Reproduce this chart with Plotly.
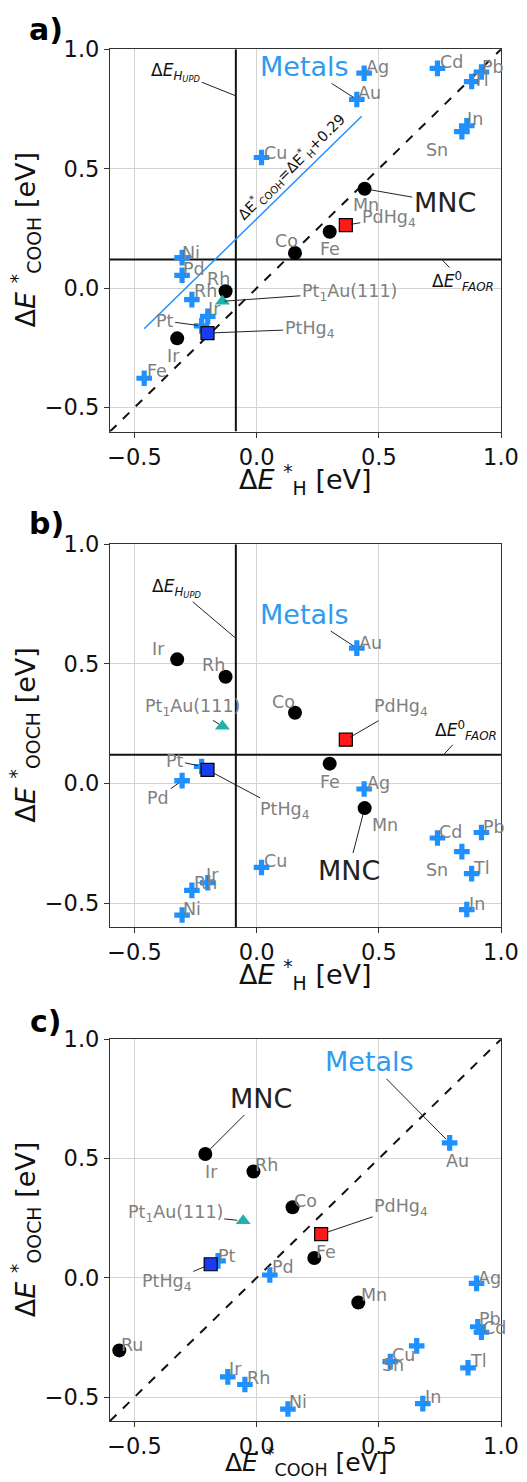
import numpy as np
import plotly.graph_objects as go

# ---------------- data ----------------
metal_names = ["Ag", "Au", "Cd", "Cu", "Fe", "In", "Ir", "Ni", "Pb", "Pd", "Pt", "Rh", "Sn", "Tl"]
metal_dEH = [0.44, 0.41, 0.74, 0.02, -0.46, 0.86, -0.20, -0.305, 0.92, -0.305, -0.225, -0.265, 0.84, 0.88]
metal_dECOOH = [0.90, 0.79, 0.92, 0.547, -0.377, 0.68, -0.118, 0.128, 0.905, 0.054, -0.158, -0.048, 0.655, 0.865]
metal_dEOOCH = [-0.023, 0.566, -0.228, -0.351, None, -0.527, -0.415, -0.55, -0.205, 0.012, 0.071, -0.447, -0.285, -0.377]

mnc_names = ["Co", "Fe", "Ir", "Mn", "Rh", "Ru"]
mnc_dEH = [0.157, 0.299, -0.325, 0.442, -0.127, None]
mnc_dECOOH = [0.147, 0.236, -0.21, 0.416, -0.013, -0.562]
mnc_dEOOCH = [0.296, 0.083, 0.519, -0.103, 0.446, -0.304]

pdhg4 = {"H": 0.365, "COOH": 0.264, "OOCH": 0.183}
pthg4 = {"H": -0.201, "COOH": -0.188, "OOCH": 0.057}
pt1au = {"H": -0.14, "COOH": -0.055, "OOCH": 0.239}

dE_HUPD = -0.085
dE_FAOR = 0.12
fit_offset = 0.29
fit_x_range = [-0.46, 0.43]
axis_range = [-0.6, 1.0]
tick_vals = [-0.5, 0.0, 0.5, 1.0]
tick_text = ["\u22120.5", "0.0", "0.5", "1.0"]

# ---------------- style ----------------
FONT = "DejaVu Sans"
BLUE = "#1E90FF"
GRAY = "#808080"
W, H = 527, 1482
XDOM = [110 / W, 501 / W]
YDOMS = [[1 - 431.5 / H, 1 - 49.3 / H], [1 - 927 / H, 1 - 544.3 / H], [1 - 1421 / H, 1 - 1039.3 / H]]

fig = go.Figure()
annotations = []


def nn(v):
    return np.nan if v is None else v


axes_refs = [("x", "y"), ("x2", "y2"), ("x3", "y3")]

panel_data = [
    ("H", "COOH", metal_dEH, metal_dECOOH, mnc_dEH, mnc_dECOOH),
    ("H", "OOCH", metal_dEH, metal_dEOOCH, mnc_dEH, mnc_dEOOCH),
    ("COOH", "OOCH", metal_dECOOH, metal_dEOOCH, mnc_dECOOH, mnc_dEOOCH),
]

for i, (kx, ky, mx, my, cx, cy) in enumerate(panel_data):
    xr, yr = axes_refs[i]
    if i < 2:
        fig.add_trace(go.Scatter(x=[dE_HUPD, dE_HUPD], y=axis_range, mode="lines",
                                 line=dict(color="#111111", width=2), xaxis=xr, yaxis=yr, showlegend=False, hoverinfo="skip"))
        fig.add_trace(go.Scatter(x=axis_range, y=[dE_FAOR, dE_FAOR], mode="lines",
                                 line=dict(color="#111111", width=2), xaxis=xr, yaxis=yr, showlegend=False, hoverinfo="skip"))
    if i != 1:
        fig.add_trace(go.Scatter(x=axis_range, y=axis_range, mode="lines",
                                 line=dict(color="#111111", width=2, dash="dash"), xaxis=xr, yaxis=yr, showlegend=False, hoverinfo="skip"))
    if i == 0:
        fx = np.array(fit_x_range)
        fig.add_trace(go.Scatter(x=fx, y=fx + fit_offset, mode="lines",
                                 line=dict(color=BLUE, width=1.5), xaxis=xr, yaxis=yr, showlegend=False, hoverinfo="skip"))
    fig.add_trace(go.Scatter(x=[nn(v) for v in mx], y=[nn(v) for v in my], mode="markers",
                             marker=dict(symbol="cross", size=13, color=BLUE, line=dict(width=0)),
                             xaxis=xr, yaxis=yr, showlegend=False, cliponaxis=False))
    fig.add_trace(go.Scatter(x=[nn(v) for v in cx], y=[nn(v) for v in cy], mode="markers",
                             marker=dict(symbol="circle", size=14, color="black"),
                             xaxis=xr, yaxis=yr, showlegend=False))
    fig.add_trace(go.Scatter(x=[pt1au[kx]], y=[pt1au[ky]], mode="markers",
                             marker=dict(symbol="triangle-up", size=13, color="#20B2AA"),
                             xaxis=xr, yaxis=yr, showlegend=False))
    fig.add_trace(go.Scatter(x=[pdhg4[kx]], y=[pdhg4[ky]], mode="markers",
                             marker=dict(symbol="square", size=13, color="#FF1A1A", line=dict(color="black", width=1.2)),
                             xaxis=xr, yaxis=yr, showlegend=False))
    fig.add_trace(go.Scatter(x=[pthg4[kx]], y=[pthg4[ky]], mode="markers",
                             marker=dict(symbol="square", size=13, color="#1A3CF0", line=dict(color="black", width=1.2)),
                             xaxis=xr, yaxis=yr, showlegend=False))

# ---------------- point labels (pixel offsets of the label centre: dx right, dy down) ----------------
metal_off = [
    {"Ag": (13, -6), "Au": (13, -6), "Cd": (14, -6), "Cu": (14, -5), "Fe": (13, -7), "In": (8, -7), "Ir": (7, -7),
     "Ni": (9, -5), "Pb": (12, -5), "Pd": (12, -6), "Pt": None, "Rh": (14, -9), "Sn": (-25, 18), "Tl": (9, -2)},
    {"Ag": (14, -6), "Au": (14, -5), "Cd": (13, -6), "Cu": (14, -6), "In": (10, -6), "Ir": (5, -8), "Ni": (10, -6),
     "Pb": (13, -6), "Pd": None, "Pt": None, "Rh": (14, -7), "Sn": (-25, 18), "Tl": (10, -6)},
    {"Ag": (13, -5), "Au": (8, 18), "Cd": (13, -4), "Cu": (13, -7), "In": (10, -7), "Ir": (8, -8), "Ni": (10, -7),
     "Pb": (12, -8), "Pd": (13, -8), "Pt": (9, -5), "Rh": (14, -7), "Sn": (-24, 19), "Tl": (10, -7)},
]
mnc_off = [
    {"Co": (-8, -12), "Fe": (0, 17), "Ir": (-4, 18), "Mn": (1, 16), "Rh": (-7, -12)},
    {"Co": (-11, -11), "Fe": (0, 18), "Ir": (-19, -10), "Mn": (20, 17), "Rh": (-12, -12)},
    {"Co": (13, -6), "Fe": (12, -6), "Ir": (6, 18), "Mn": (16, -7), "Rh": (13, -6), "Ru": (13, -5)},
]
leader_labels = [
    [("Pt", metal_dEH, metal_dECOOH, -37, -5)],
    [("Pt", metal_dEH, metal_dEOOCH, -27, -6), ("Pd", metal_dEH, metal_dEOOCH, -24, 17)],
    [],
]

lab_font = dict(family=FONT, size=17.5, color=GRAY)

for i, (kx, ky, mx, my, cx, cy) in enumerate(panel_data):
    xr, yr = axes_refs[i]
    for names, xs, ys, offs in ((metal_names, mx, my, metal_off[i]), (mnc_names, cx, cy, mnc_off[i])):
        for n, xv, yv in zip(names, xs, ys):
            if xv is None or yv is None or n not in offs or offs[n] is None:
                continue
            dx, dy = offs[n]
            annotations.append(dict(x=xv, y=yv, xref=xr, yref=yr, text=n, showarrow=False,
                                    xanchor="center", yanchor="middle",
                                    xshift=dx, yshift=-dy, font=lab_font))
    for n, xs, ys, dx, dy in leader_labels[i]:
        k = metal_names.index(n)
        annotations.append(dict(x=xs[k], y=ys[k], xref=xr, yref=yr, text=n, showarrow=True, arrowhead=0,
                                arrowwidth=1, arrowcolor="#222", ax=dx, ay=dy, font=lab_font, standoff=4))


def callout(xr, yr, x, y, text, ax, ay, font, standoff=0):
    annotations.append(dict(x=x, y=y, xref=xr, yref=yr, text=text, showarrow=True, arrowhead=0,
                            arrowwidth=1, arrowcolor="#222", ax=ax, ay=ay, font=font, standoff=standoff))


big_blue = dict(family=FONT, size=27, color="#2E9BF2")
big_black = dict(family=FONT, size=27, color="#222222")
small_black = dict(family=FONT, size=17, color="#111111")
hupd_txt = "\u0394<i>E</i><sub><i>H</i><sub><i>UPD</i></sub></sub>"
faor_txt = "\u0394<i>E</i><sup>0</sup><sub><i>FAOR</i></sub>"

au = metal_names.index("Au")
mn = mnc_names.index("Mn")
ir = mnc_names.index("Ir")

# panel a
callout("x", "y", dE_HUPD, 0.805, hupd_txt, -60, -24, small_black)
callout("x", "y", 0.758, dE_FAOR, faor_txt, 21, 22, small_black)
callout("x", "y", metal_dEH[au], metal_dECOOH[au], "Metals", -52, -33, big_blue, 4)
callout("x", "y", mnc_dEH[mn], mnc_dECOOH[mn], "MNC", 80, 14, big_black, 6)
callout("x", "y", pdhg4["H"], pdhg4["COOH"], "PdHg<sub>4</sub>", 43, -7, lab_font, 5)
callout("x", "y", pt1au["H"], pt1au["COOH"], "Pt<sub>1</sub>Au(111)", 127, -9, lab_font, 2)
callout("x", "y", pthg4["H"], pthg4["COOH"], "PtHg<sub>4</sub>", 102, -4, lab_font, 6)
annotations.append(dict(x=0.142, y=0.142 + fit_offset + 0.075, xref="x", yref="y",
                        xanchor="center", yanchor="middle",
                        text="\u0394E<sup>*</sup><sub>COOH</sub>=\u0394E<sup>*</sup><sub>H</sub>+0.29",
                        showarrow=False, textangle=-44.5, font=dict(family=FONT, size=14.5, color="#111111")))

# panel b
callout("x2", "y2", dE_HUPD, 0.607, hupd_txt, -59, -50, small_black)
callout("x2", "y2", 0.765, dE_FAOR, faor_txt, 22, -24, small_black)
callout("x2", "y2", metal_dEH[au], metal_dEOOCH[au], "Metals", -52, -34, big_blue, 4)
callout("x2", "y2", mnc_dEH[mn], mnc_dEOOCH[mn], "MNC", -16, 62, big_black, 6)
callout("x2", "y2", pdhg4["H"], pdhg4["OOCH"], "PdHg<sub>4</sub>", 55, -32, lab_font, 5)
callout("x2", "y2", pt1au["H"], pt1au["OOCH"], "Pt<sub>1</sub>Au(111)", -30, -19, lab_font, 4)
callout("x2", "y2", pthg4["H"], pthg4["OOCH"], "PtHg<sub>4</sub>", 77, 41, lab_font, 6)

# panel c
callout("x3", "y3", mnc_dECOOH[ir], mnc_dEOOCH[ir], "MNC", 56, -56, big_black, 6)
callout("x3", "y3", metal_dECOOH[au], metal_dEOOCH[au], "Metals", -80, -81, big_blue, 5)
callout("x3", "y3", pt1au["COOH"], pt1au["OOCH"], "Pt<sub>1</sub>Au(111)", -68, -7, lab_font, 6)
callout("x3", "y3", pdhg4["COOH"], pdhg4["OOCH"], "PdHg<sub>4</sub>", 80, -27, lab_font, 6)
callout("x3", "y3", pthg4["COOH"], pthg4["OOCH"], "PtHg<sub>4</sub>", -44, 18, lab_font, 7)

# ---------------- panel letters & axis titles ----------------
letters = ["a)", "b)", "c)"]
letter_y = [30, 523, 1022]
for t, py in zip(letters, letter_y):
    annotations.append(dict(x=46 / W, y=1 - py / H, xref="paper", yref="paper", text=f"<b>{t}</b>",
                            xanchor="center", yanchor="middle",
                            showarrow=False, font=dict(family=FONT, size=30, color="black")))

xtitles = ["\u0394<i>E</i> <sup>*</sup><sub>H</sub> [eV]", "\u0394<i>E</i> <sup>*</sup><sub>H</sub> [eV]",
           "\u0394<i>E</i> <sup>*</sup><sub>COOH</sub> [eV]"]
ytitles = ["\u0394<i>E</i> <sup>*</sup><sub>COOH</sub> [eV]", "\u0394<i>E</i> <sup>*</sup><sub>OOCH</sub> [eV]",
           "\u0394<i>E</i> <sup>*</sup><sub>OOCH</sub> [eV]"]
xtitle_y = [479, 974, 1462]
xtitle_size = [27, 27, 25]
for i in range(3):
    y0, y1 = YDOMS[i]
    annotations.append(dict(x=(XDOM[0] + XDOM[1]) / 2, y=1 - xtitle_y[i] / H, xref="paper", yref="paper",
                            xanchor="center", yanchor="middle",
                            text=xtitles[i], showarrow=False,
                            font=dict(family=FONT, size=xtitle_size[i], color="#111111")))
    annotations.append(dict(x=25 / W, y=(y0 + y1) / 2, xref="paper", yref="paper", textangle=-90,
                            xanchor="center", yanchor="middle",
                            text=ytitles[i], showarrow=False, font=dict(family=FONT, size=27, color="#111111")))

axis_common = dict(range=axis_range, tickvals=tick_vals, ticktext=tick_text, showgrid=True,
                   gridcolor="#d3d3d3", gridwidth=1, zeroline=False, showline=True, linecolor="#333333",
                   linewidth=1.2, mirror=True, ticks="outside", ticklen=5, tickcolor="#333333",
                   automargin=False, tickfont=dict(family=FONT, size=22.5, color="#111111"))

layout = dict(width=W, height=H, autosize=False,
              margin=dict(l=0, r=0, t=0, b=0, pad=0, autoexpand=False), plot_bgcolor="white",
              paper_bgcolor="white", annotations=annotations, showlegend=False)
for i in range(3):
    sx = "" if i == 0 else str(i + 1)
    layout["xaxis" + sx] = dict(axis_common, domain=XDOM, anchor="y" + sx)
    layout["yaxis" + sx] = dict(axis_common, domain=YDOMS[i], anchor="x" + sx)

fig.update_layout(**layout)
fig.write_html("out.html", config={"responsive": False, "displayModeBar": False},
               post_script="document.body.style.margin='0';document.body.style.padding='0';"
                           "document.documentElement.style.overflow='hidden';document.body.style.overflow='hidden';")
